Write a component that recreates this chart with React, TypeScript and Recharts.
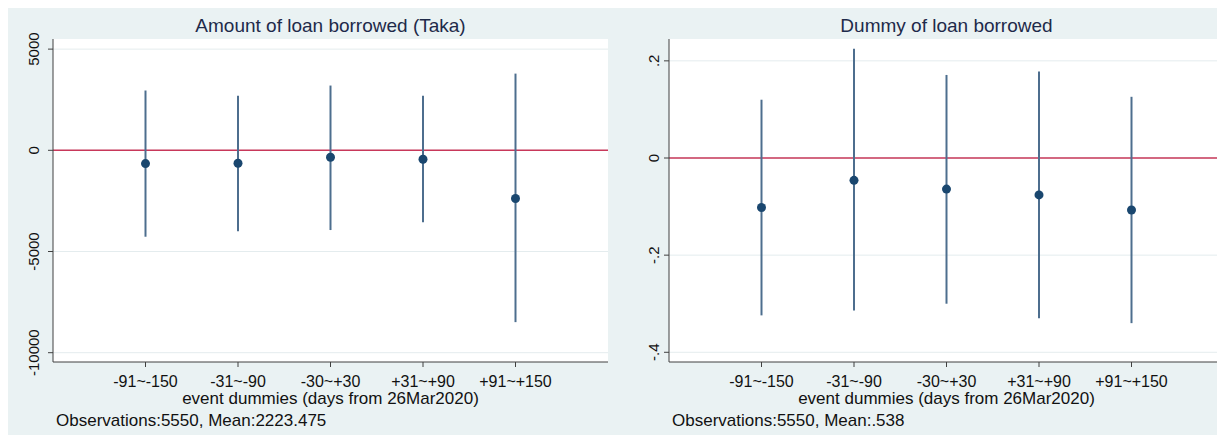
import { ComposedChart, Scatter, ErrorBar, XAxis, YAxis, CartesianGrid, ReferenceLine } from 'recharts'

const categories = ['-91~-150', '-31~-90', '-30~+30', '+31~+90', '+91~+150']
const positions = [1, 2, 3, 4, 5]

const amountEst = [-655, -640, -345, -440, -2380]
const amountLow = [-4270, -4000, -3940, -3550, -8490]
const amountHigh = [2955, 2700, 3200, 2700, 3790]
const amountTicks = [-10000, -5000, 0, 5000]

const dummyEst = [-0.102, -0.046, -0.064, -0.076, -0.107]
const dummyLow = [-0.324, -0.314, -0.3, -0.33, -0.34]
const dummyHigh = [0.12, 0.225, 0.171, 0.178, 0.126]
const dummyTicks = [-0.4, -0.2, 0, 0.2]

const FONT = '"Liberation Sans", Arial, sans-serif'
const BG = '#eaf2f3'
const NAVY = '#1a476f'
const CI = '#4d6e8e'
const RED = '#c8385a'
const AXIS = '#404040'

const build = (est: number[], lo: number[], hi: number[]) =>
  positions.map((x, i) => ({ x, est: est[i], err: [est[i] - lo[i], hi[i] - est[i]] }))

const amountData = build(amountEst, amountLow, amountHigh)
const dummyData = build(dummyEst, dummyLow, dummyHigh)

const fmtDummy = (v: number) => {
  if (v === 0) return '0'
  return v.toString().replace('0.', '.')
}

function XTick({ x, y, payload }: any) {
  return (
    <text x={x} y={y} dy={18} textAnchor="middle" fontSize={16} fill="#111">
      {categories[payload.value - 1]}
    </text>
  )
}

function makeYTick(offset: number, fmt: (v: number) => string) {
  return ({ x, y, payload }: any) => (
    <text
      transform={`translate(${x - offset},${y}) rotate(-90)`}
      textAnchor="middle"
      dominantBaseline="central"
      fontSize={15}
      fill="#111"
    >
      {fmt(payload.value)}
    </text>
  )
}

interface PanelProps {
  left: number
  width: number
  marginLeft: number
  marginRight: number
  data: Array<{ x: number; est: number; err: number[] }>
  domain: [number, number]
  ticks: number[]
  yTick: any
  title: string
  note: string
}

function Panel({ left, width, marginLeft, marginRight, data, domain, ticks, yTick, title, note }: PanelProps) {
  const plotLeft = marginLeft + 40
  const plotW = width - plotLeft - marginRight
  const center = plotLeft + plotW / 2
  return (
    <div style={{ position: 'absolute', left, top: 0, width, height: 443 }}>
      <ComposedChart
        width={width}
        height={443}
        data={data}
        margin={{ top: 39, right: marginRight, left: marginLeft, bottom: 61 }}
      >
        <CartesianGrid horizontal vertical={false} fill="#ffffff" stroke="#e4ecee" horizontalValues={ticks} />
        <XAxis
          type="number"
          dataKey="x"
          domain={[0, 6]}
          ticks={positions}
          height={20}
          tick={<XTick />}
          stroke={AXIS}
          tickSize={5}
          allowDataOverflow
        />
        <YAxis
          type="number"
          domain={domain}
          ticks={ticks}
          width={40}
          tick={yTick}
          stroke={AXIS}
          tickSize={5}
          allowDataOverflow
        />
        <ReferenceLine y={0} stroke={RED} strokeWidth={1.5} />
        <Scatter
          dataKey="est"
          isAnimationActive={false}
          shape={(p: any) => <circle cx={p.cx} cy={p.cy} r={4.5} fill={NAVY} />}
        >
          <ErrorBar dataKey="err" direction="y" width={0} stroke={CI} strokeWidth={2} isAnimationActive={false} />
        </Scatter>
      </ComposedChart>
      <div
        style={{
          position: 'absolute',
          left: center - 300,
          width: 600,
          top: 16,
          textAlign: 'center',
          fontSize: 19,
          lineHeight: '19px',
          color: '#1e2a4a',
          whiteSpace: 'nowrap',
        }}
      >
        {title}
      </div>
      <div
        style={{
          position: 'absolute',
          left: center - 300,
          width: 600,
          top: 389.5,
          textAlign: 'center',
          fontSize: 17,
          lineHeight: '17px',
          color: '#111',
          whiteSpace: 'nowrap',
        }}
      >
        event dummies (days from 26Mar2020)
      </div>
      <div
        style={{
          position: 'absolute',
          left: plotLeft + 3,
          top: 411.5,
          fontSize: 17,
          lineHeight: '17px',
          color: '#111',
          whiteSpace: 'nowrap',
        }}
      >
        {note}
      </div>
    </div>
  )
}

export default function App() {
  return (
    <div style={{ position: 'relative', width: 1225, height: 443, margin: -8, background: '#fff', fontFamily: FONT, overflow: 'hidden' }}>
      <div style={{ position: 'absolute', left: 7, top: 5, width: 1218, height: 438, background: BG }} />
      <Panel
        left={0}
        width={612}
        marginLeft={13}
        marginRight={4}
        data={amountData}
        domain={[-10460, 5500]}
        ticks={amountTicks}
        yTick={makeYTick(13, (v: number) => String(v))}
        title="Amount of loan borrowed (Taka)"
        note="Observations:5550, Mean:2223.475"
      />
      <Panel
        left={612}
        width={613}
        marginLeft={17}
        marginRight={1}
        data={dummyData}
        domain={[-0.42, 0.245]}
        ticks={dummyTicks}
        yTick={makeYTick(9, fmtDummy)}
        title="Dummy of loan borrowed"
        note="Observations:5550, Mean:.538"
      />
    </div>
  )
}
